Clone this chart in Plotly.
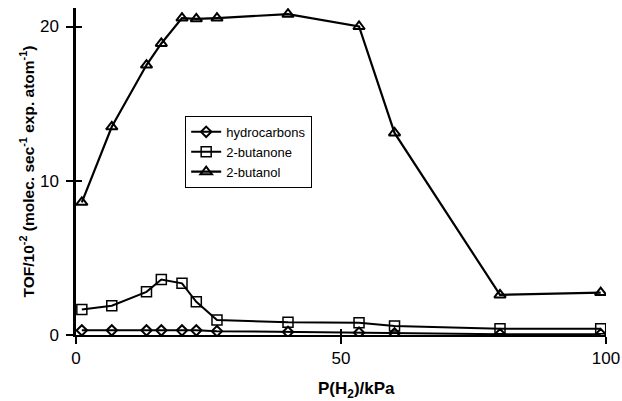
import plotly.graph_objects as go

# Data
p_h2 = [1.1, 6.75, 13.3, 16.1, 20.0, 22.7, 26.6, 40.0, 53.4, 60.1, 80.0, 99.0]
butanol = [8.6, 13.5, 17.5, 18.9, 20.55, 20.5, 20.55, 20.8, 20.0, 13.1, 2.6, 2.75]
butanone = [1.65, 1.9, 2.8, 3.6, 3.35, 2.15, 0.97, 0.82, 0.8, 0.58, 0.41, 0.41]
hydrocarbons = [0.3, 0.3, 0.3, 0.3, 0.3, 0.3, 0.25, 0.2, 0.15, 0.1, 0.05, 0.05]

x_ticks = [0, 50, 100]
y_ticks = [0, 10, 20]
x_range = [0, 100]
y_range = [0, 21.2]

FONT = "Liberation Sans, Arial, sans-serif"

fig = go.Figure()
fig.add_trace(go.Scatter(
    x=p_h2, y=hydrocarbons, mode="lines+markers", name="hydrocarbons",
    line=dict(color="black", width=2),
    marker=dict(symbol="diamond-open", size=8, color="black", line=dict(width=2)),
))
fig.add_trace(go.Scatter(
    x=p_h2, y=butanone, mode="lines+markers", name="2-butanone",
    line=dict(color="black", width=2),
    marker=dict(symbol="square-open", size=10, color="black", line=dict(width=1.5)),
))
fig.add_trace(go.Scatter(
    x=p_h2, y=butanol, mode="lines+markers", name="2-butanol",
    line=dict(color="black", width=2.2),
    marker=dict(symbol="triangle-up-open", size=10, color="black", line=dict(width=2)),
))
# empty trace so the overlay axes (inner half of crossing ticks) are drawn
fig.add_trace(go.Scatter(x=[None], y=[None], xaxis="x2", yaxis="y2",
                         showlegend=False, hoverinfo="skip"))

fig.update_layout(
    width=622, height=401,
    margin=dict(l=76, r=16, t=8, b=66),
    paper_bgcolor="white", plot_bgcolor="white",
    font=dict(family=FONT, size=17, color="black"),
    showlegend=True,
    legend=dict(
        x=0.206, y=0.67, xanchor="left", yanchor="top",
        bgcolor="white", bordercolor="black", borderwidth=1,
        font=dict(family=FONT, size=13, color="black"),
        itemwidth=30, tracegroupgap=0,
    ),
    xaxis=dict(
        range=x_range, tickvals=x_ticks, showgrid=False, zeroline=False,
        automargin=False,
        showline=True, linecolor="black", linewidth=2,
        ticks="outside", ticklen=7, tickwidth=1.5, tickcolor="black",
    ),
    yaxis=dict(
        range=y_range, tickvals=y_ticks, showgrid=False, zeroline=False,
        automargin=False,
        showline=True, linecolor="black", linewidth=2.5,
        ticks="outside", ticklen=7, tickwidth=1.5, tickcolor="black",
        ticklabelstandoff=4,
        title=dict(text="<b>TOF/10<sup>-2</sup> (molec. sec<sup>-1</sup> exp. atom<sup>-1</sup>)</b>",
                   font=dict(size=15.5), standoff=2),
    ),
    xaxis2=dict(
        overlaying="x", anchor="y2", range=x_range, tickvals=x_ticks,
        showgrid=False, zeroline=False, showline=False, showticklabels=False,
        automargin=False, ticks="inside", ticklen=6, tickwidth=1.5, tickcolor="black",
    ),
    yaxis2=dict(
        overlaying="y", anchor="x2", range=y_range, tickvals=y_ticks,
        showgrid=False, zeroline=False, showline=False, showticklabels=False,
        automargin=False, ticks="inside", ticklen=6, tickwidth=1.5, tickcolor="black",
    ),
    annotations=[dict(
        text="<b>P(H<sub>2</sub>)/kPa</b>", xref="paper", yref="paper",
        x=0.53, y=-0.168, xanchor="center", yanchor="middle",
        showarrow=False, font=dict(family=FONT, size=17, color="black"),
    )],
)

fig.write_html("out.html", config={"displayModeBar": False},
               post_script="document.body.style.margin='0';document.body.style.overflow='hidden';")
